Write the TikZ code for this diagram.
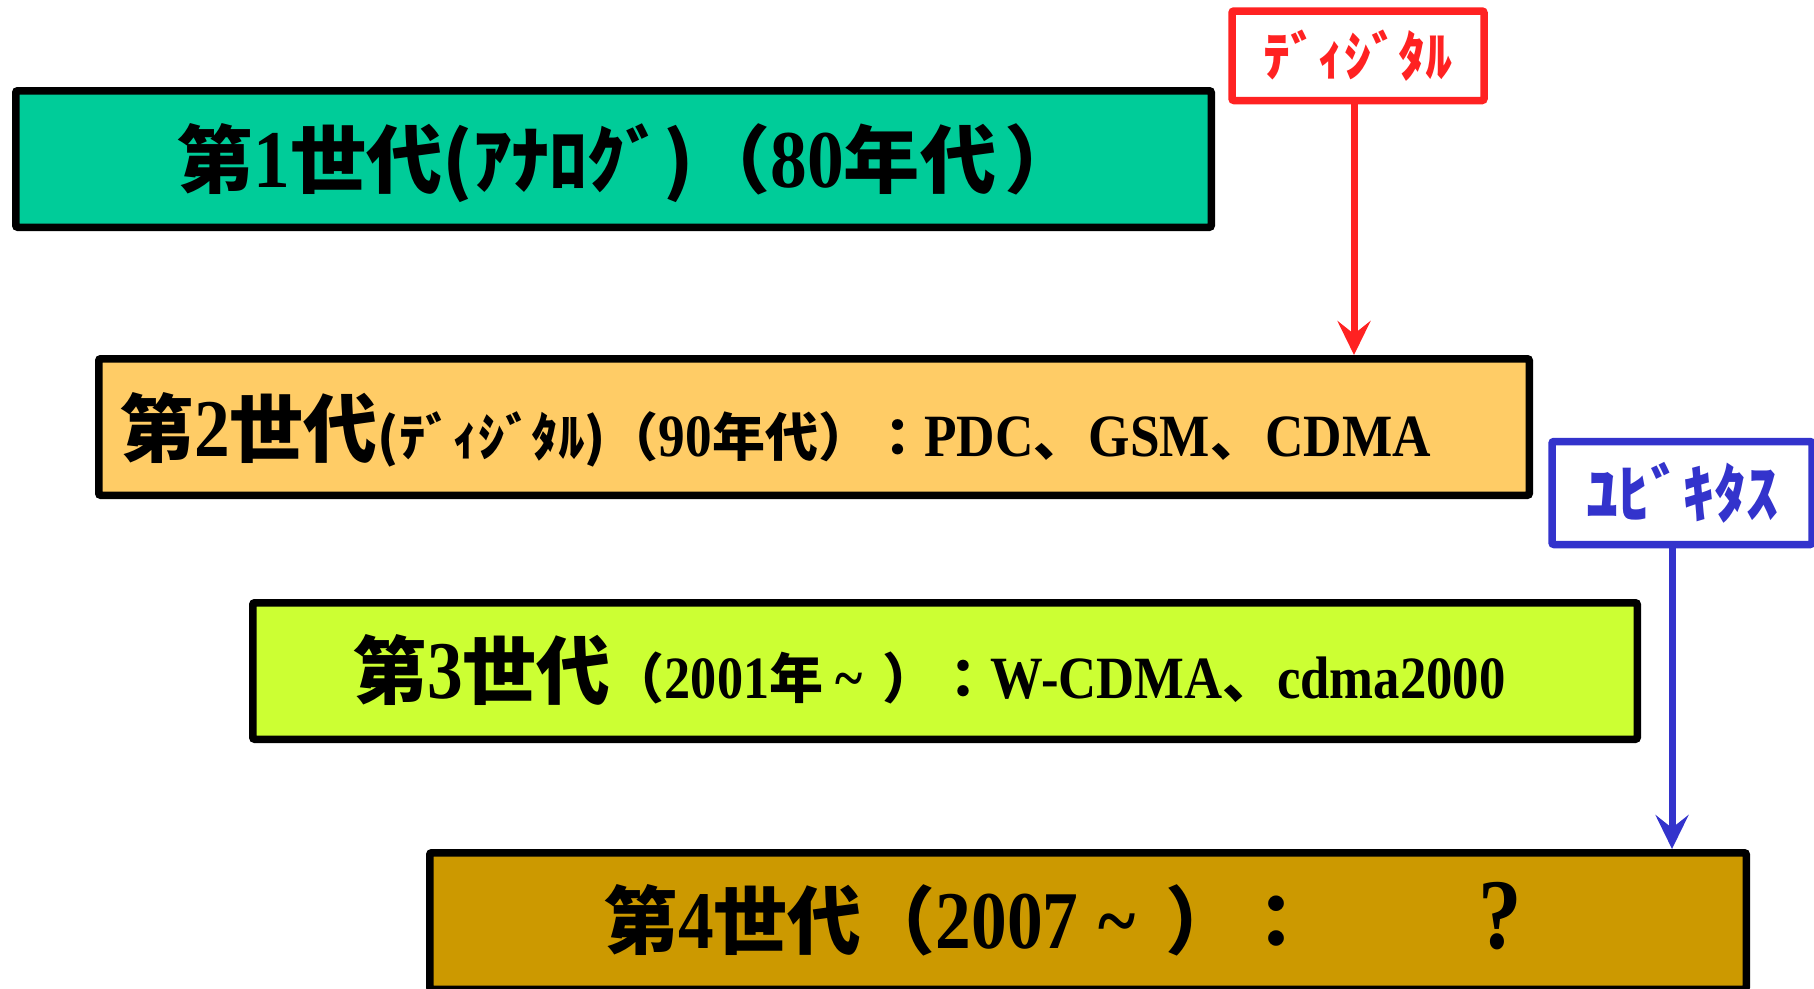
\documentclass[tikz,border=0pt]{standalone}
\usepackage{fontspec}
\usepackage{graphicx}
\newfontfamily\jpf{Noto Sans CJK JP}
\newfontfamily\latf{Liberation Serif}[FakeStretch=0.87]
\usetikzlibrary{arrows.meta}
\definecolor{cA}{HTML}{00CC99}
\definecolor{cB}{HTML}{FFCC66}
\definecolor{cC}{HTML}{CCFF33}
\definecolor{cD}{HTML}{CC9900}
\definecolor{cR}{HTML}{FF2222}
\definecolor{cU}{HTML}{3333CC}
\newcommand\jtx[2]{{\fontsize{#1}{#1}\selectfont\jpf\bfseries #2}}
\newcommand\ltx[2]{{\fontsize{#1}{#1}\selectfont\latf\bfseries #2}}
\tikzset{
  genbox/.style={draw=black, line width=7.5pt, rounded corners=2pt, inner sep=0pt},
  tagbox/.style={draw, fill=white, line width=7.5pt, rounded corners=2pt, inner sep=0pt},
  txt/.style={inner sep=0pt, anchor=base west},
  link/.style={line width=7pt, -{Stealth[length=34pt, width=33pt, inset=13pt]}},
}
\begin{document}
\begin{tikzpicture}[x=1pt, y=-1pt]
\useasboundingbox (0,0) rectangle (1814,988);
% boxes
\node[genbox, fill=cA, minimum width=1195.5pt, minimum height=136.5pt] (b1) at (613.5,159) {};
\node[genbox, fill=cB, minimum width=1430.5pt, minimum height=136.5pt] (b2) at (814,427) {};
\node[genbox, fill=cC, minimum width=1384.5pt, minimum height=136.5pt] (b3) at (945,671) {};
\node[genbox, fill=cD, minimum width=1316.5pt, minimum height=136.5pt] (b4) at (1088,921) {};
% texts
\node[txt] (t1) at (177,187) {\scalebox{1.03}[1]{\jtx{74}{第}\ltx{82}{1}\jtx{74}{世代(ｱﾅﾛｸﾞ)（}\ltx{82}{80}\jtx{74}{年代}\hspace{8pt}\jtx{74}{）}}};
\node[txt] (t2) at (120,456) {\jtx{74}{第}\ltx{82}{2}\jtx{74}{世代}\scalebox{1.02}[1]{\jtx{52}{(ﾃﾞｨｼﾞﾀﾙ)（}\ltx{60}{90}\jtx{52}{年代）：}\ltx{60}{PDC}\jtx{52}{、}\hspace{2pt}\ltx{60}{GSM}\jtx{52}{、}\hspace{2pt}\ltx{60}{CDMA}}};
\node[txt] (t3) at (353,698) {\jtx{74}{第}\ltx{82}{3}\jtx{74}{世代}\jtx{54}{（}\ltx{60}{2001}\jtx{54}{年}\hspace{12pt}\ltx{60}{\textasciitilde}\hspace{20pt}\jtx{54}{）：}\scalebox{1.01}[1]{\ltx{60}{W-CDMA}\jtx{54}{、}\ltx{60}{cdma2000}}};
\node[txt] (t4) at (604,948) {\jtx{74}{第}\ltx{82}{4}\jtx{74}{世代（}\ltx{82}{2007}\hspace{20pt}\ltx{82}{\textasciitilde}\hspace{30pt}\jtx{74}{）：}\hspace{165pt}\ltx{100}{?}};
% tags
\node[tagbox, draw=cR, text=cR, minimum width=252pt, minimum height=89.5pt] (red) at (1358,55.75) {\jtx{54}{ﾃﾞｨｼﾞﾀﾙ}};
\node[tagbox, draw=cU, text=cU, minimum width=260pt, minimum height=103pt] (blue) at (1682,493) {\jtx{64}{ﾕﾋﾞｷﾀｽ}};
% arrows
\draw[link, cR] ([xshift=-4pt]red.south) -- ([xshift=-4pt]red.south |- b2.north);
\draw[link, cU] ([xshift=-10pt]blue.south) -- ([xshift=-10pt]blue.south |- b4.north);
\end{tikzpicture}
\end{document}
